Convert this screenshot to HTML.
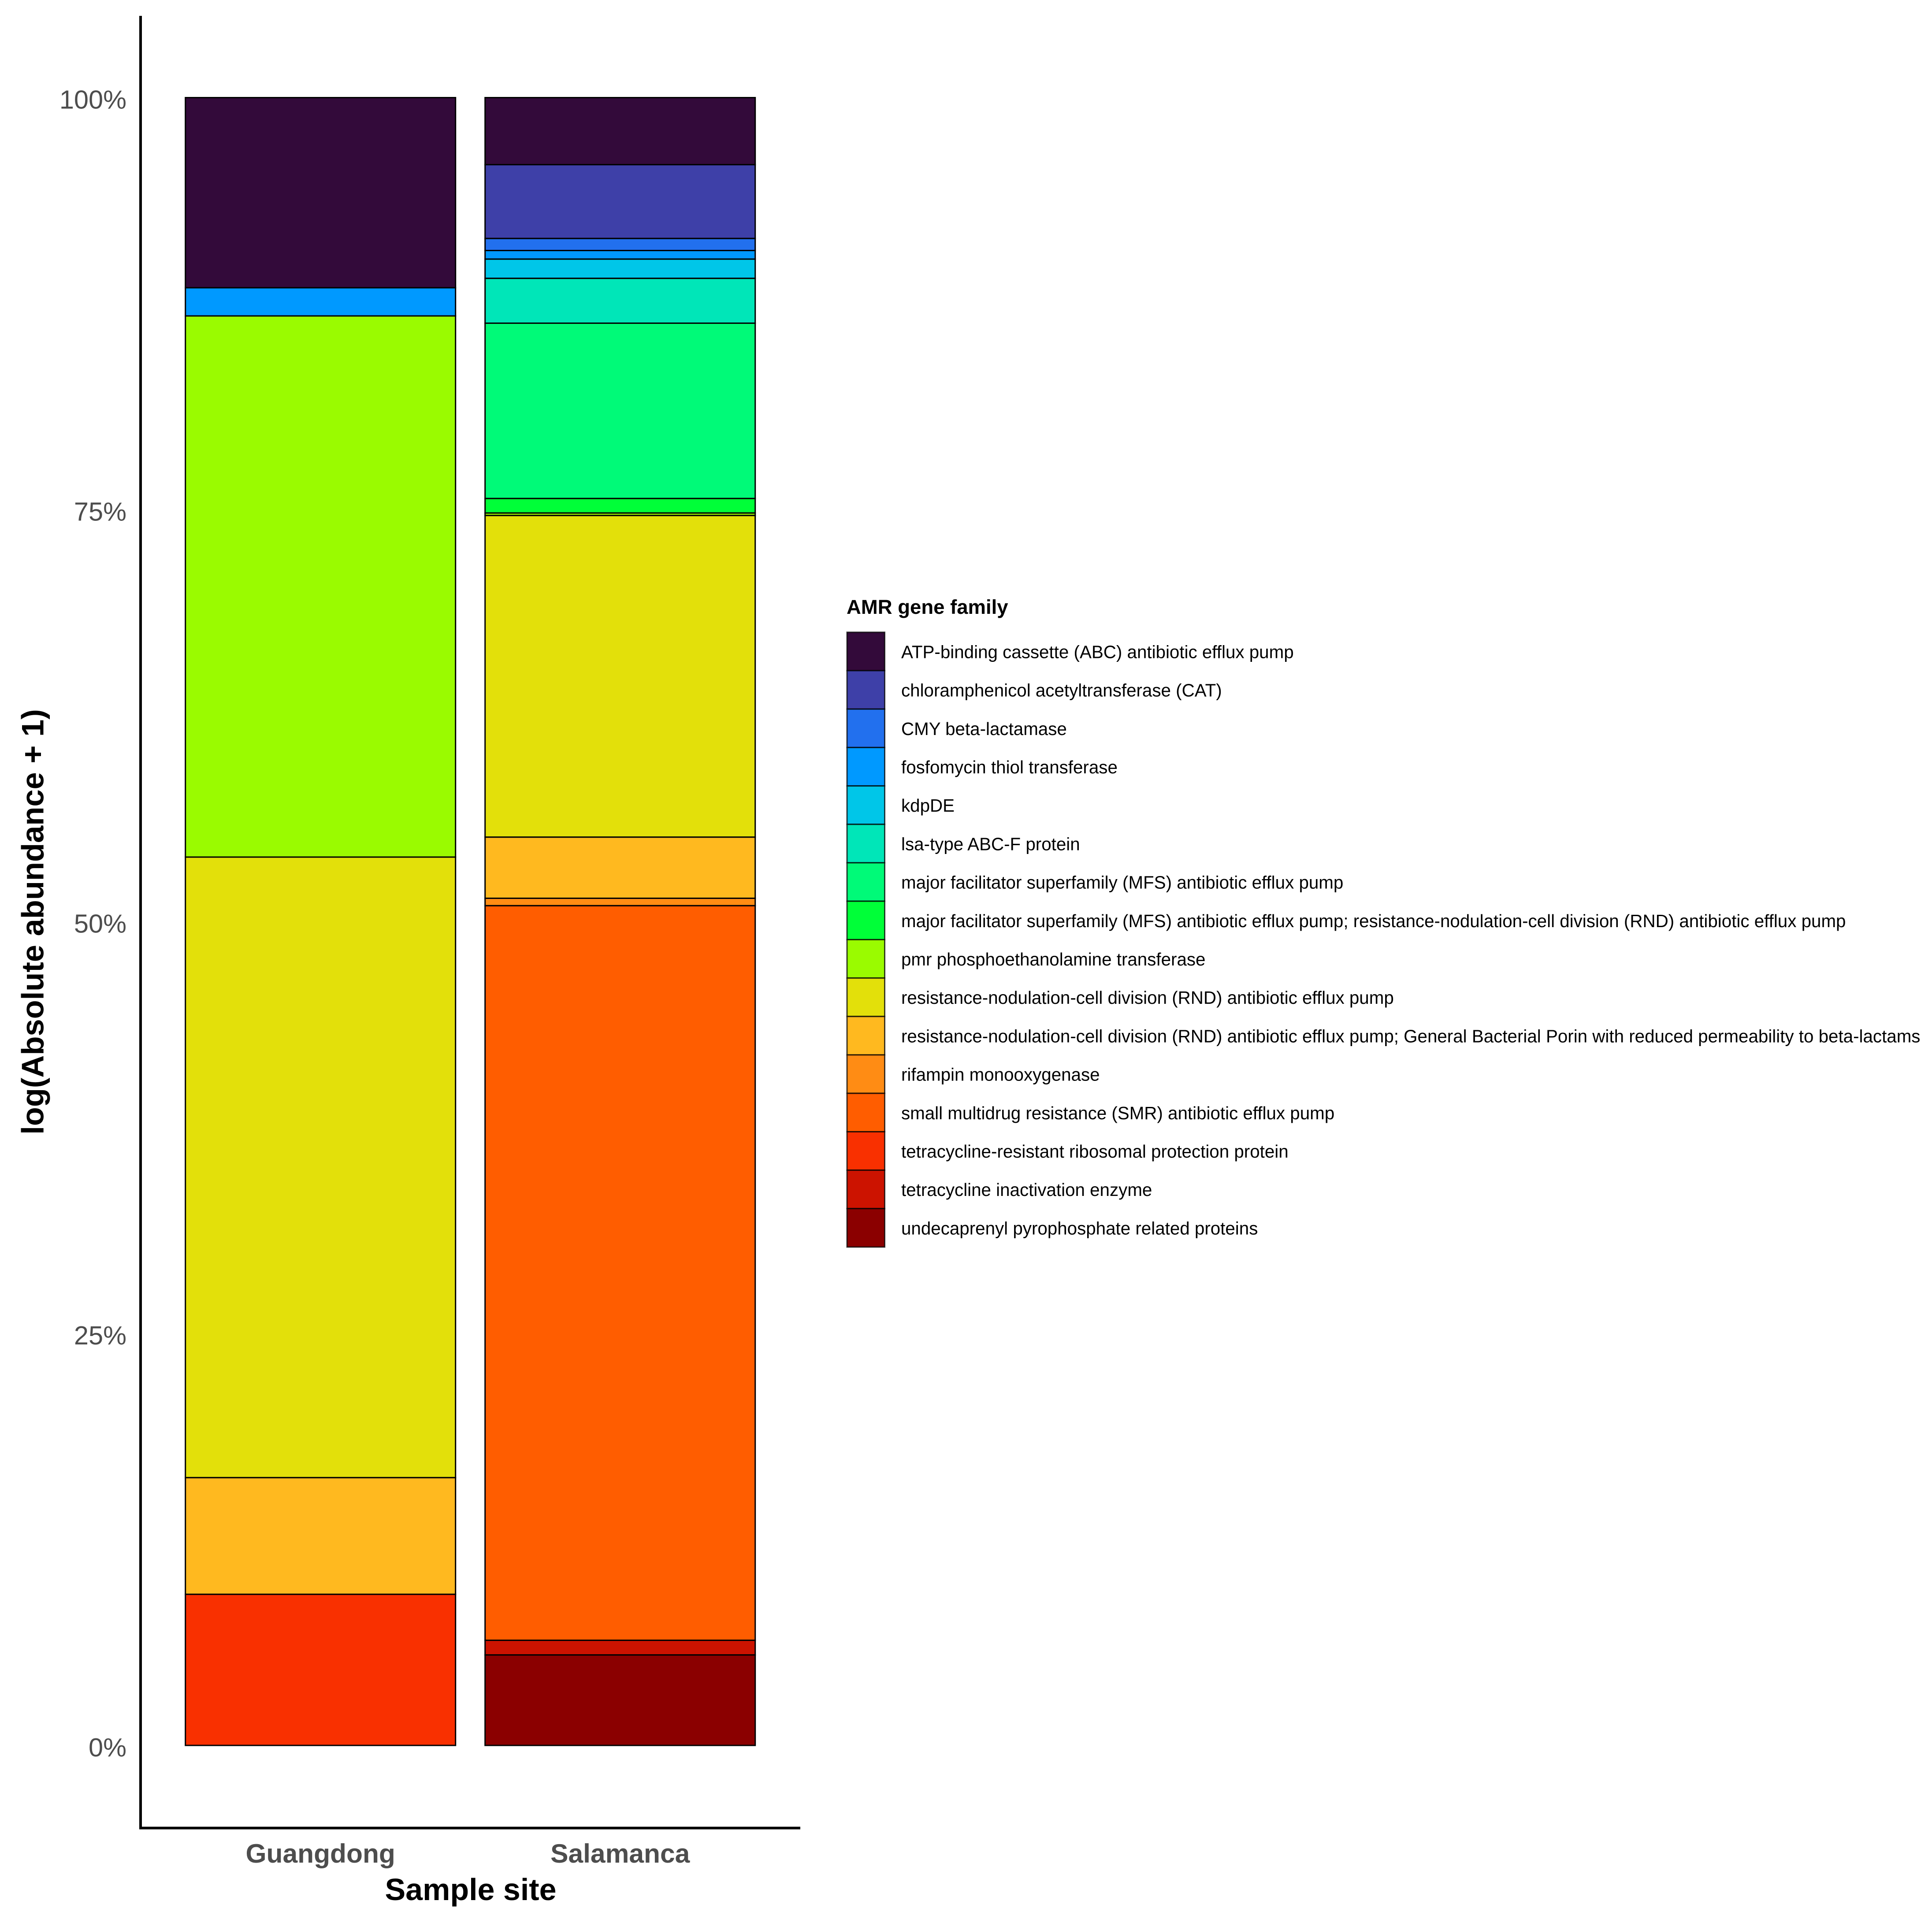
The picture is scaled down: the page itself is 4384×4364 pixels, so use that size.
<!DOCTYPE html>
<html lang="en">
<head>
<meta charset="utf-8">
<title>AMR gene family relative abundance</title>
<style>
html,body{margin:0;padding:0;background:#fff;}
svg{display:block;font-family:"Liberation Sans",Arial,sans-serif;}
</style>
</head>
<body>
<svg id="chart" xmlns="http://www.w3.org/2000/svg" width="4384" height="4364" viewBox="0 0 4384 4364">
  <rect x="0" y="0" width="4384" height="4364" fill="#ffffff"/>
  <g id="bars"></g>
  <line x1="319" y1="36" x2="319" y2="4151" stroke="#000" stroke-width="6"/>
  <line x1="316" y1="4148.5" x2="1816" y2="4148.5" stroke="#000" stroke-width="6"/>
  <g id="y-ticks"></g>
  <g id="x-ticks"></g>
  <text x="1068" y="4312" text-anchor="middle" font-size="70" font-weight="700" fill="#000">Sample site</text>
  <text transform="translate(98.5,2092) rotate(-90)" text-anchor="middle" font-size="70.5" font-weight="700" fill="#000">log(Absolute abundance + 1)</text>
  <g id="legend">
    <text x="1921" y="1393" font-size="45.5" font-weight="700" fill="#000">AMR gene family</text>
  </g>
</svg>
<script>
var categories = ["Guangdong", "Salamanca"];
var families = [
  "ATP-binding cassette (ABC) antibiotic efflux pump",
  "chloramphenicol acetyltransferase (CAT)",
  "CMY beta-lactamase",
  "fosfomycin thiol transferase",
  "kdpDE",
  "lsa-type ABC-F protein",
  "major facilitator superfamily (MFS) antibiotic efflux pump",
  "major facilitator superfamily (MFS) antibiotic efflux pump; resistance-nodulation-cell division (RND) antibiotic efflux pump",
  "pmr phosphoethanolamine transferase",
  "resistance-nodulation-cell division (RND) antibiotic efflux pump",
  "resistance-nodulation-cell division (RND) antibiotic efflux pump; General Bacterial Porin with reduced permeability to beta-lactams",
  "rifampin monooxygenase",
  "small multidrug resistance (SMR) antibiotic efflux pump",
  "tetracycline-resistant ribosomal protection protein",
  "tetracycline inactivation enzyme",
  "undecaprenyl pyrophosphate related proteins"
];
var guangdongValues = [11.54, 0, 0, 1.71, 0, 0, 0, 0, 32.84, 37.66, 7.08, 0, 0, 9.17, 0, 0];
var salamancaValues = [4.07, 4.48, 0.73, 0.52, 1.17, 2.72, 10.64, 0.88, 0.15, 19.52, 3.71, 0.45, 44.58, 0, 0.89, 5.49];
var yTickValues = [0, 25, 50, 75, 100];
var yTickLabels = ["0%", "25%", "50%", "75%", "100%"];
var palette = ["#330A3A", "#3E40A8", "#2270EE", "#0099FF", "#00C6E8", "#00E6B8", "#00FA78", "#00FF38", "#9AFB00", "#E3E00A", "#FFB91F", "#FF8C14", "#FF5D00", "#F93000", "#CC1300", "#8B0000"];

var NS = "http://www.w3.org/2000/svg";
var PLOT_TOP = 221.5, PLOT_BOTTOM = 3961;
var BAND_START = 420.7, BAND_STEP = 680, BAR_WIDTH = 613;
function yScale(p) { return PLOT_BOTTOM - (p / 100) * (PLOT_BOTTOM - PLOT_TOP); }
function xScale(i) { return BAND_START + i * BAND_STEP; }
function slug(s) { return s.toLowerCase().replace(/[^a-z0-9]+/g, "-").replace(/^-|-$/g, "").slice(0, 50); }
function make(tag, parent) { var e = document.createElementNS(NS, tag); parent.appendChild(e); return e; }

var seriesByCategory = [guangdongValues, salamancaValues];
var barsGroup = document.getElementById("bars");
seriesByCategory.forEach(function (vals, c) {
  var total = vals.reduce(function (a, b) { return a + b; }, 0);
  var cum = 100;
  vals.forEach(function (v, f) {
    if (v <= 0) { return; }
    var share = v / total * 100;
    var y0 = yScale(cum), y1 = yScale(cum - share);
    var r = make("rect", barsGroup);
    
    
    r.setAttribute("x", xScale(c));
    r.setAttribute("y", y0);
    r.setAttribute("width", BAR_WIDTH);
    r.setAttribute("height", y1 - y0);
    r.setAttribute("fill", palette[f]);
    r.setAttribute("stroke", "#000");
    r.setAttribute("stroke-width", "3");
    cum -= share;
  });
});

var yTicksGroup = document.getElementById("y-ticks");
yTickValues.forEach(function (v, i) {
  var t = make("text", yTicksGroup);
  
  
  t.setAttribute("x", 287);
  t.setAttribute("y", yScale(v) + 25);
  t.setAttribute("text-anchor", "end");
  t.setAttribute("font-size", "59.5");
  t.setAttribute("fill", "#4D4D4D");
  t.textContent = yTickLabels[i];
});

var xTicksGroup = document.getElementById("x-ticks");
categories.forEach(function (name, i) {
  var t = make("text", xTicksGroup);
  
  
  t.setAttribute("x", xScale(i) + BAR_WIDTH / 2);
  t.setAttribute("y", 4227);
  t.setAttribute("text-anchor", "middle");
  t.setAttribute("font-size", "60.5");
  t.setAttribute("font-weight", "700");
  t.setAttribute("fill", "#4D4D4D");
  t.textContent = name;
});

var legendGroup = document.getElementById("legend");
var LEG_TOP = 1434.8, LEG_STEP = 87.2;
families.forEach(function (name, i) {
  var s = make("rect", legendGroup);
  
  
  s.setAttribute("x", 1922);
  s.setAttribute("y", LEG_TOP + i * LEG_STEP);
  s.setAttribute("width", 85.5);
  s.setAttribute("height", LEG_STEP);
  s.setAttribute("fill", palette[i]);
  s.setAttribute("stroke", "#000");
  s.setAttribute("stroke-opacity", "0.75");
  s.setAttribute("stroke-width", "3");
  var t = make("text", legendGroup);
  
  
  t.setAttribute("x", 2045);
  t.setAttribute("y", LEG_TOP + (i + 0.5) * LEG_STEP + 15);
  t.setAttribute("font-size", "40.35");
  t.setAttribute("fill", "#000");
  t.textContent = name;
});
</script>
</body>
</html>
